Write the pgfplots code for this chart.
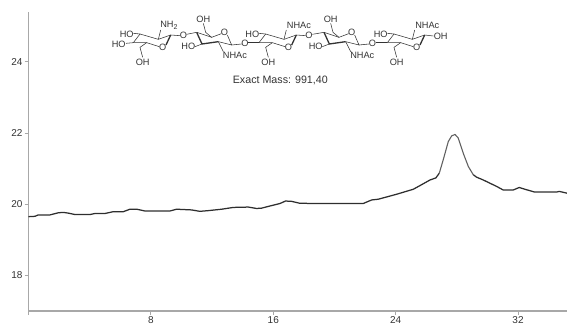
\documentclass[border=0pt]{standalone}
\usepackage{fontspec}
\setmainfont{Liberation Sans}
\usepackage{pgfplots}
\pgfplotsset{compat=1.18}

\definecolor{axisgrey}{HTML}{A8A8A8}
\definecolor{txt}{HTML}{333333}

% the hexasaccharide is drawn by hand, units are 3x zoomed pixels
\newcommand{\lbl}[2]{\node[inner sep=0pt,text=txt,font=\fontsize{9.2}{10}\selectfont] at (#1) {#2};}
\newcommand{\lblw}[2]{\node[inner sep=0pt,anchor=west,text=txt,font=\fontsize{9.2}{10}\selectfont] at (#1) {#2};}
% chair, ring oxygen low on the right
\newcommand{\sugarA}[2]{%
\begin{scope}[xshift=#1*1pt/3]
\draw (150,102)--(205,118)--(242,105);
\draw (150,102)--(130,128);
\draw (130,128)--(170,128)--(208,140);
\draw[line width=1.3pt] (228,135)--(242,105);
\draw (170,128)--(150,142)--(158,172);
\draw (150,102)--(130,100);
\draw (205,118)--(212,90);
\lbl{218,143}{O}
\lbl{158,187}{OH}
\lblw{#2,75}{\ifnum#1=0 NH{\fontsize{7}{7}\selectfont\raisebox{-2pt}{2}}\else NHAc\fi}
\lbl{110,103}{HO}
\end{scope}}
% flipped chair, ring oxygen high on the right
\newcommand{\sugarB}[1]{%
\begin{scope}[xshift=#1*1pt/3]
\draw (320,97)--(365,112)--(394,101);
\draw (412,105)--(425,135)--(385,125);
\draw[line width=1.3pt] (320,97)--(336,132)--(385,125);
\draw (365,112)--(347,97)--(340,70);
\draw (336,132)--(315,140);
\draw (385,125)--(400,155);
\lbl{403,97}{O}
\lbl{340,57}{OH}
\lbl{295,140}{HO}
\lblw{398,167}{NHAc}
\end{scope}}

\begin{document}
\begin{tikzpicture}[x=1pt,y=1pt]
\path[use as bounding box] (0,0) rectangle (567,325);
\begin{axis}[
    at={(28.5pt,14pt)}, anchor=south west,
    scale only axis,
    width=538.5pt, height=299pt,
    xmin=0, xmax=35.2,
    ymin=17, ymax=25.4,
    axis y line*=left, axis x line*=bottom,
    axis line style={axisgrey, line width=1.5pt, -},
    xtick={0,8,16,24,32},
    xticklabels={,8,16,24,32},
    ytick={18,20,22,24},
    tick align=outside,
    major tick length=4pt,
    tick style={axisgrey, line width=0.8pt},
    tick label style={text=txt, font=\fontsize{10}{11}\selectfont},
    /pgf/number format/assume math mode=true,
    xticklabel style={yshift=2.5pt},
    yticklabel style={xshift=1.5pt},
    clip=false,
]
\addplot[no marks, black!82, line width=1.25pt, line join=round] coordinates {
(0,19.65) (0.42,19.66) (0.64,19.70) (1.41,19.70) (1.95,19.76) (2.28,19.77)
(2.60,19.75) (3.04,19.71) (4.02,19.71) (4.35,19.74) (5.00,19.74) (5.54,19.79)
(6.20,19.79) (6.63,19.86) (7.07,19.86) (7.61,19.81) (9.25,19.81) (9.68,19.86)
(10.66,19.84) (11.20,19.80) (11.75,19.82) (12.63,19.86) (13.39,19.91) (14.37,19.92)
(14.91,19.88) (15.24,19.89) (15.78,19.95) (16.44,20.02) (16.80,20.09) (17.20,20.08)
(17.70,20.03) (18.50,20.02) (21.88,20.02) (22.43,20.12) (22.86,20.14) (24.06,20.28)
(25.15,20.42) (25.70,20.55) (26.24,20.68) (26.63,20.74) (26.85,20.87)
};
% the steep part of the peak is paler in the reference
\addplot[no marks, black!62, line width=1.1pt, line join=round] coordinates {
(26.85,20.87) (27.11,21.25) (27.44,21.76) (27.66,21.92) (27.88,21.96)
(28.09,21.86) (28.42,21.43) (28.75,21.06) (29.07,20.83)
};
\addplot[no marks, black!82, line width=1.25pt, line join=round] coordinates {
(29.07,20.83) (29.29,20.76) (29.73,20.68) (30.60,20.50) (31.03,20.40) (31.68,20.40)
(32.08,20.47) (32.45,20.42) (33.10,20.34) (34.50,20.34) (34.70,20.36) (35.20,20.31)
};
\end{axis}

\begin{scope}[shift={(90pt,325pt)},x=1pt/3,y=-1pt/3,line width=0.55pt,draw=txt]
\sugarA{0}{210}
\sugarB{0}
\sugarA{377}{213}
\sugarB{382}
\sugarA{762}{213}
% first unit: extra HO, the linking oxygens, last unit OH
\draw (130,128)--(108,130);
\lbl{86,132}{HO}
\draw (242,105)--(270,107);  \lbl{280,105}{O}
\draw (290,103)--(320,97);
\draw (425,135)--(455,132);  \lbl{465,130}{O}
\draw (475,128)--(507,128);
\draw (619,105)--(647,107);  \lbl{657,105}{O}
\draw (667,103)--(702,97);
\draw (807,135)--(837,132);  \lbl{847,130}{O}
\draw (857,128)--(892,128);
\draw (1004,105)--(1030,108); \lbl{1052,108}{OH}
\node[inner sep=0pt,text=txt,font=\fontsize{10.7}{12}\selectfont] at (571,240) {Exact Mass: 991,40};
\end{scope}
\end{tikzpicture}
\end{document}
